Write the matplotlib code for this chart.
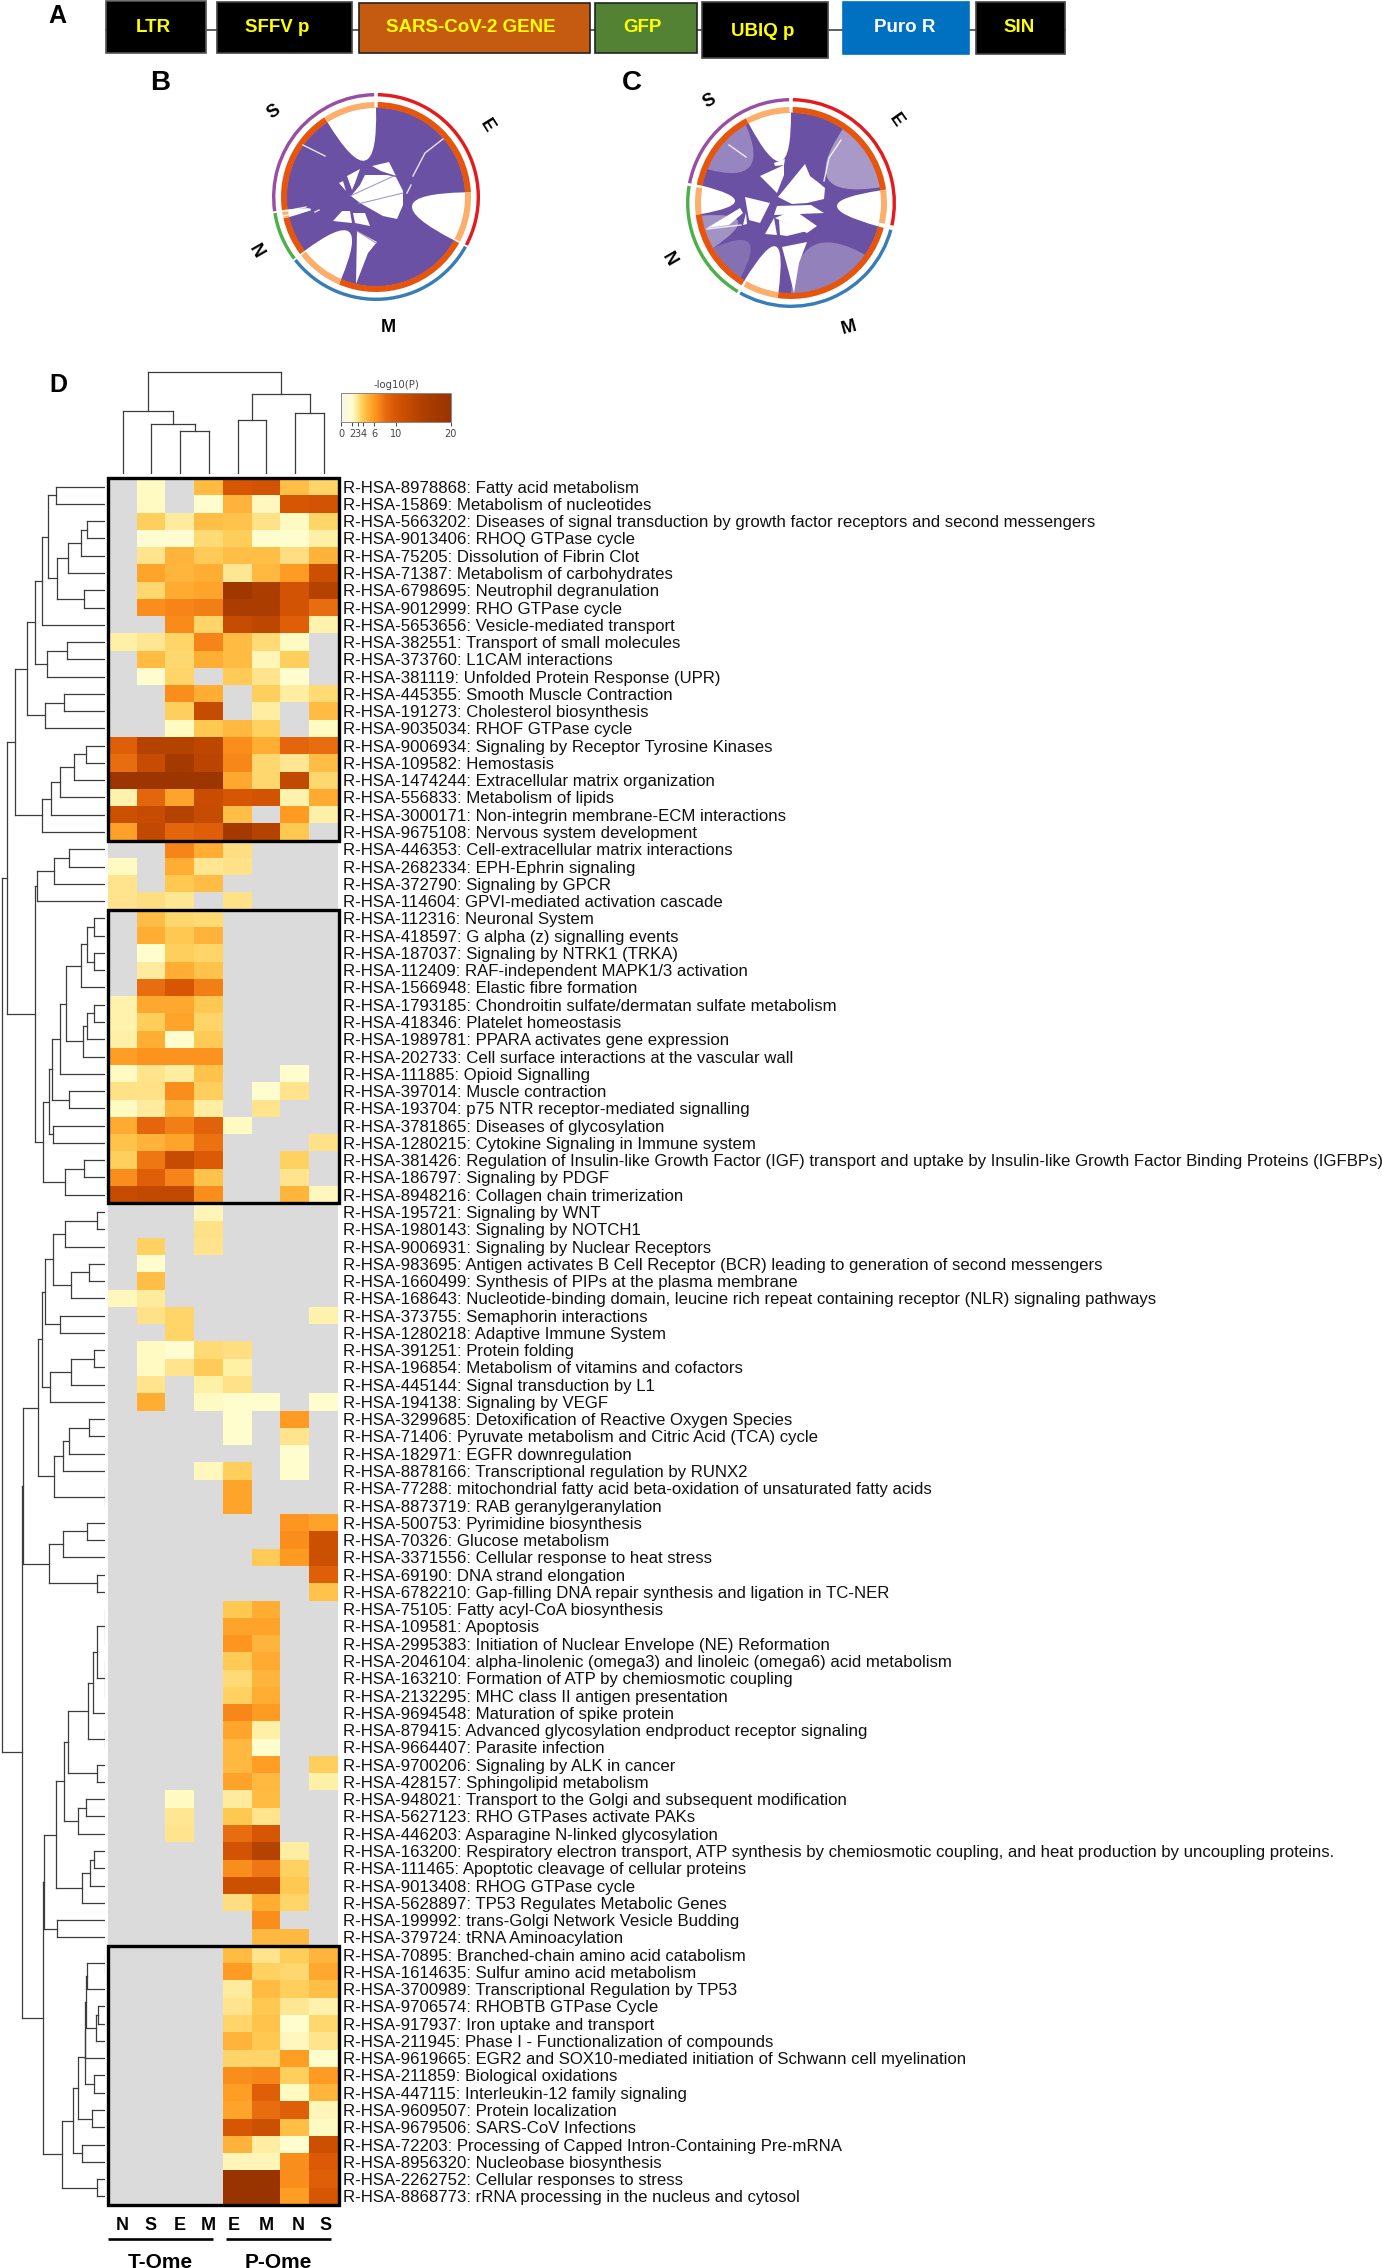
import numpy as np
import matplotlib
matplotlib.use("Agg")
import matplotlib.pyplot as plt
from matplotlib.colors import LinearSegmentedColormap, Normalize
from matplotlib.cm import ScalarMappable
from matplotlib.patches import Rectangle, Wedge, PathPatch, Polygon
from matplotlib.path import Path

plt.rcParams['font.family'] = ['Liberation Sans', 'DejaVu Sans']

W, H = 1382, 2268
_ = None

#? panel A
cassette_names = ["LTR", "SFFV p", "SARS-CoV-2 GENE", "GFP", "UBIQ p", "Puro R", "SIN"]
cassette_fill = ["black", "black", "#C55A11", "#548235", "black", "#0070C0", "black"]
cassette_edge = ["#555555", "#444444", "#222222", "#222222", "#444444", "#0070C0", "#444444"]
cassette_text = ["#FFFF00", "#FFFF00", "#FFFF00", "#FFFF00", "#FFFF00", "white", "#FFFF00"]
cassette_left = [106, 217, 359.5, 595.5, 702, 843, 976]
cassette_right = [206, 352, 590, 697, 828, 969, 1065]
cassette_top = [1, 2, 3, 3, 2, 2, 2]
cassette_bottom = [53, 53, 53, 53, 58, 53.5, 53.5]
cassette_label_x = [153, 277, 471, 642, 763, 905, 1019]
cassette_label_y = [27, 28, 28, 27.5, 31, 28, 28]

#? chord panels, angles are degrees clockwise from 12 o'clock
seg_names = ["E", "M", "N", "S"]
seg_colors = ["#E41A1C", "#377EB8", "#4DAF4A", "#984EA3"]
b_outer = [(1, 118), (119, 232), (233, 261), (262, 359)]
b_dark = [(1, 87), (119, 203), (233, 257), (262, 327)]
b_light = [(87, 118), (203, 232), (257, 261), (327, 359)]
b_bays = [(87, 119, 37, 1), (327, 360, 38, 1), (203, 233, 44, 1), (257, 262, 66, 1)]  # a1, a2, tip radius, alpha
b_slits = [
    [(67, 58), (49, 44), (37, 21)], [(35, 12), (31, 4)], [(-73, 52), (-51, 41)],
    [(-93, -19), (-66, -13)], [(-90, -14), (-70, -10)], [(-61, -15), (-57, -13)],
]
b_holes = [
    [(-4, 31), (13, 35), (20, 21), (5, 26)],
    [(11, 22), (20, 20), (27, 6), (27, -8), (21, -22), (7, -19), (-16, -6), (-25, 1), (-16, 12), (-11, 22)],
    [(-29, 21), (-16, 28), (-21, 14), (-24, 7)],
    [(-37, 14), (-33, 16), (-30, 6)],
    [(-43, -24), (-34, -14), (-26, -14), (-24, -26)],
    [(-23, -16), (-11, -16), (-6, -29), (-21, -26)],
    [(-19, -34), (1, -45), (-8, -56), (-20, -87)],
]
b_threads = [[(-26, 1), (20, 22)], [(-18, -7), (27, 4)], [(-19, -34), (0, -46)]]
c_outer = [(1, 102.5), (105, 209.5), (211, 279.5), (281, 359)]
c_dark = [(1, 82), (105, 188), (211, 263), (281, 332)]
c_light = [(82, 102.5), (188, 209.5), (263, 279.5), (332, 359)]
c_bays = [
    (35, 80, 44, 0.42), (125, 180, 48, 0.28), (240, 262, 56, 0.38), (292, 330, 55, 0.3), (214, 240, 58, 0.18),
    (82, 105, 46, 1), (332, 360, 43, 1), (188, 211, 46, 1), (263, 281, 56, 1),
]
c_slits = [[(50, 63), (38, 45), (33, 22)], [(-62, 58), (-45, 46)], [(-84, -26), (-50, -22)]]
c_holes = [
    [(-13, 6), (14, 39), (19, 27), (28, 20), (34, 15), (33, 4), (16, 0), (1, -1)],
    [(-17, -12), (-14, -3), (20, -2), (33, -10)],
    [(-16, -15), (16, -30), (26, -23), (3, -7)],
    [(-26, -31), (-17, -15), (-14, -32)],
    [(-12, -17), (16, -28), (-4, -33), (-11, -32)],
    [(-46, 6), (-21, 0), (-31, -20), (-42, -17)],
    [(-31, 27), (-7, 38), (-7, 28), (-14, 10)],
    [(-17, 40), (-6, 44), (-7, 38), (-16, 37)],
    [(-9, -44), (16, -39), (8, -60), (3, -90), (-2, -70)],
    [(-84, -25), (-51, -5), (-48, -10), (-62, -22)],
    [(-48, -22), (-45, -10), (-44, -21)],
]
c_threads = []

#? panel D columns / rows
col_labels = ["N", "S", "E", "M", "E", "M", "N", "S"]
pathway_labels = [
    "R-HSA-8978868: Fatty acid metabolism", "R-HSA-15869: Metabolism of nucleotides",
    "R-HSA-5663202: Diseases of signal transduction by growth factor receptors and second messengers",
    "R-HSA-9013406: RHOQ GTPase cycle", "R-HSA-75205: Dissolution of Fibrin Clot",
    "R-HSA-71387: Metabolism of carbohydrates", "R-HSA-6798695: Neutrophil degranulation",
    "R-HSA-9012999: RHO GTPase cycle", "R-HSA-5653656: Vesicle-mediated transport",
    "R-HSA-382551: Transport of small molecules", "R-HSA-373760: L1CAM interactions",
    "R-HSA-381119: Unfolded Protein Response (UPR)", "R-HSA-445355: Smooth Muscle Contraction",
    "R-HSA-191273: Cholesterol biosynthesis", "R-HSA-9035034: RHOF GTPase cycle",
    "R-HSA-9006934: Signaling by Receptor Tyrosine Kinases", "R-HSA-109582: Hemostasis",
    "R-HSA-1474244: Extracellular matrix organization", "R-HSA-556833: Metabolism of lipids",
    "R-HSA-3000171: Non-integrin membrane-ECM interactions", "R-HSA-9675108: Nervous system development",
    "R-HSA-446353: Cell-extracellular matrix interactions", "R-HSA-2682334: EPH-Ephrin signaling",
    "R-HSA-372790: Signaling by GPCR", "R-HSA-114604: GPVI-mediated activation cascade",
    "R-HSA-112316: Neuronal System", "R-HSA-418597: G alpha (z) signalling events",
    "R-HSA-187037: Signaling by NTRK1 (TRKA)", "R-HSA-112409: RAF-independent MAPK1/3 activation",
    "R-HSA-1566948: Elastic fibre formation", "R-HSA-1793185: Chondroitin sulfate/dermatan sulfate metabolism",
    "R-HSA-418346: Platelet homeostasis", "R-HSA-1989781: PPARA activates gene expression",
    "R-HSA-202733: Cell surface interactions at the vascular wall", "R-HSA-111885: Opioid Signalling",
    "R-HSA-397014: Muscle contraction", "R-HSA-193704: p75 NTR receptor-mediated signalling",
    "R-HSA-3781865: Diseases of glycosylation", "R-HSA-1280215: Cytokine Signaling in Immune system",
    "R-HSA-381426: Regulation of Insulin-like Growth Factor (IGF) transport and uptake by Insulin-like Growth Factor Binding Proteins (IGFBPs)",
    "R-HSA-186797: Signaling by PDGF", "R-HSA-8948216: Collagen chain trimerization",
    "R-HSA-195721: Signaling by WNT", "R-HSA-1980143: Signaling by NOTCH1",
    "R-HSA-9006931: Signaling by Nuclear Receptors",
    "R-HSA-983695: Antigen activates B Cell Receptor (BCR) leading to generation of second messengers",
    "R-HSA-1660499: Synthesis of PIPs at the plasma membrane",
    "R-HSA-168643: Nucleotide-binding domain, leucine rich repeat containing receptor (NLR) signaling pathways",
    "R-HSA-373755: Semaphorin interactions", "R-HSA-1280218: Adaptive Immune System",
    "R-HSA-391251: Protein folding", "R-HSA-196854: Metabolism of vitamins and cofactors",
    "R-HSA-445144: Signal transduction by L1", "R-HSA-194138: Signaling by VEGF",
    "R-HSA-3299685: Detoxification of Reactive Oxygen Species",
    "R-HSA-71406: Pyruvate metabolism and Citric Acid (TCA) cycle", "R-HSA-182971: EGFR downregulation",
    "R-HSA-8878166: Transcriptional regulation by RUNX2",
    "R-HSA-77288: mitochondrial fatty acid beta-oxidation of unsaturated fatty acids",
    "R-HSA-8873719: RAB geranylgeranylation", "R-HSA-500753: Pyrimidine biosynthesis",
    "R-HSA-70326: Glucose metabolism", "R-HSA-3371556: Cellular response to heat stress",
    "R-HSA-69190: DNA strand elongation", "R-HSA-6782210: Gap-filling DNA repair synthesis and ligation in TC-NER",
    "R-HSA-75105: Fatty acyl-CoA biosynthesis", "R-HSA-109581: Apoptosis",
    "R-HSA-2995383: Initiation of Nuclear Envelope (NE) Reformation",
    "R-HSA-2046104: alpha-linolenic (omega3) and linoleic (omega6) acid metabolism",
    "R-HSA-163210: Formation of ATP by chemiosmotic coupling", "R-HSA-2132295: MHC class II antigen presentation",
    "R-HSA-9694548: Maturation of spike protein", "R-HSA-879415: Advanced glycosylation endproduct receptor signaling",
    "R-HSA-9664407: Parasite infection", "R-HSA-9700206: Signaling by ALK in cancer",
    "R-HSA-428157: Sphingolipid metabolism", "R-HSA-948021: Transport to the Golgi and subsequent modification",
    "R-HSA-5627123: RHO GTPases activate PAKs", "R-HSA-446203: Asparagine N-linked glycosylation",
    "R-HSA-163200: Respiratory electron transport, ATP synthesis by chemiosmotic coupling, and heat production by uncoupling proteins.",
    "R-HSA-111465: Apoptotic cleavage of cellular proteins", "R-HSA-9013408: RHOG GTPase cycle",
    "R-HSA-5628897: TP53 Regulates Metabolic Genes", "R-HSA-199992: trans-Golgi Network Vesicle Budding",
    "R-HSA-379724: tRNA Aminoacylation", "R-HSA-70895: Branched-chain amino acid catabolism",
    "R-HSA-1614635: Sulfur amino acid metabolism", "R-HSA-3700989: Transcriptional Regulation by TP53",
    "R-HSA-9706574: RHOBTB GTPase Cycle", "R-HSA-917937: Iron uptake and transport",
    "R-HSA-211945: Phase I - Functionalization of compounds",
    "R-HSA-9619665: EGR2 and SOX10-mediated initiation of Schwann cell myelination",
    "R-HSA-211859: Biological oxidations", "R-HSA-447115: Interleukin-12 family signaling",
    "R-HSA-9609507: Protein localization", "R-HSA-9679506: SARS-CoV Infections",
    "R-HSA-72203: Processing of Capped Intron-Containing Pre-mRNA", "R-HSA-8956320: Nucleobase biosynthesis",
    "R-HSA-2262752: Cellular responses to stress", "R-HSA-8868773: rRNA processing in the nucleus and cytosol",
]

heat_a = [
    [_, 2.2, _, 4.5, 10, 10.5, 4.3, 3.5], [_, 2.2, _, 2.1, 4.8, 2.3, 10, 10.5],
    [_, 3.7, 2.8, 4.3, 4.2, 3.1, 2.2, 3.5], [_, 2.0, 2.0, 3.3, 3.8, 2.1, 2.1, 2.6],
    [_, 3, 4.8, 3.9, 4.3, 4.3, 3.2, 4.8], [_, 5.5, 4.7, 5, 2.9, 4.6, 6, 11],
    [_, 3.4, 5.2, 5.5, 18, 15.5, 10.5, 14], [_, 6.5, 7, 7.2, 15.5, 15.5, 10.5, 8],
    [_, _, 6.7, 3.5, 12, 13, 9, 2.5], [2.6, 2.9, 3.5, 7, 4.5, 3.3, 2.2, _],
    [_, 4.5, 3.4, 5, 4.5, 2.4, 3.7, _], [_, 2.1, 3.5, _, 3.9, 3, 2.1, _],
    [_, _, 6.5, 5, _, 3.7, 2.7, 3.3], [_, _, 3.7, 12, _, 2.7, _, 4.5],
    [_, _, 2.2, 4, 4.6, 3.6, _, 2.2], [9, 14, 14, 13, 6.5, 5, 8.5, 8],
    [8, 12, 17, 13.5, 6.8, 3.4, 2.9, 4.4], [19, 19, 19, 19, 5.3, 3.4, 12.5, 3.4],
    [2.5, 8.5, 5.5, 11.5, 10, 10.5, 2.5, 5.2], [11, 12, 14, 12, 4.3, _, 6, 2.6],
    [5.7, 12.5, 8.5, 9, 17, 14, 4, _],
]
heat_b = [
    [_, _, 7, 5, 3.2, _, _, _], [2.2, _, 5, 2.9, 3.1, _, _, _], [3, _, 4, 4.4, _, _, _, _],
    [3, 3.2, 2.9, _, 3.1, _, _, _], [_, 4.4, 3.4, 3.3, _, _, _, _], [_, 5, 4, 4.8, _, _, _, _],
    [_, 2.1, 3.7, 3.5, _, _, _, _], [_, 2.8, 5, 4.2, _, _, _, _], [_, 8, 10, 7.2, _, _, _, _],
    [2.5, 5.3, 5.3, 4, _, _, _, _], [2.5, 3.8, 5.5, 3.5, _, _, _, _], [2.6, 5, 2.1, 3.9, _, _, _, _],
    [5.8, 6.3, 6.3, 6.3, _, _, _, _], [2.2, 3, 2.7, 4.2, _, _, 2.1, _], [3.1, 3.1, 6.5, 3.7, _, 2.1, 3, _],
    [2.2, 2.8, 4.8, 2.7, _, 3, _, _], [5.2, 8.5, 7.2, 8.8, 2.2, _, _, _], [4.2, 4.8, 5.5, 7.8, _, _, _, 3.1],
    [3.7, 7.5, 12, 9.5, _, _, 3.6, _], [6.5, 9, 7, 4.2, _, _, 3, _], [12, 12.5, 12.5, 6.5, _, _, 4.7, 2.3],
]
heat_c = [
    [_, _, _, 2.4, _, _, _, _], [_, _, _, 3.1, _, _, _, _], [_, 3.6, _, 3, _, _, _, _],
    [_, 2.1, _, _, _, _, _, _], [_, 4.3, _, _, _, _, _, _], [2.3, 2.8, _, _, _, _, _, _],
    [_, 3.1, 3.5, _, _, _, _, 2.5], [_, _, 3.5, _, _, _, _, _], [_, 2.2, 2.0, 3.3, 3.2, _, _, _],
    [_, 2.2, 3, 3.9, 2.6, _, _, _], [_, 3, _, 2.6, 3.1, _, _, _], [_, 5, _, 2.2, 2.1, 2.1, _, 2.1],
    [_, _, _, _, 2.1, _, 6, _], [_, _, _, _, 2.1, _, 3, _], [_, _, _, _, _, _, 2.1, _],
    [_, _, _, 2.3, 3.7, _, 2.1, _], [_, _, _, _, 5.5, _, _, _], [_, _, _, _, 5.5, _, _, _],
    [_, _, _, _, _, _, 6.2, 5.6], [_, _, _, _, _, _, 6.5, 11], [_, _, _, _, _, 3.9, 6, 11],
    [_, _, _, _, _, _, _, 9], [_, _, _, _, _, _, _, 4.2],
]
heat_d = [
    [_, _, _, _, 4, 5, _, _], [_, _, _, _, 5.5, 5.5, _, _], [_, _, _, _, 6.2, 4.7, _, _],
    [_, _, _, _, 3.9, 5.2, _, _], [_, _, _, _, 3.3, 4.7, _, _], [_, _, _, _, 3.6, 5, _, _],
    [_, _, _, _, 6.8, 6, _, _], [_, _, _, _, 5.4, 2.6, _, _], [_, _, _, _, 4.6, 2.1, _, _],
    [_, _, _, _, 4.6, 5.8, _, 3.7], [_, _, _, _, 5.6, 4.6, _, 2.6], [_, _, 2.2, _, 2.8, 4.5, _, _],
    [_, _, 2.9, _, 4, 3, _, _], [_, _, 3, _, 8, 10, _, _], [_, _, _, _, 10.5, 14, 2.7, _],
    [_, _, _, _, 6.5, 7.5, 3.6, _], [_, _, _, _, 11, 11, 4, _], [_, _, _, _, 3.2, 5, 3.5, _],
    [_, _, _, _, _, 6.5, _, _], [_, _, _, _, _, 4.6, 4.6, _],
]
heat_e = [
    [_, _, _, _, 4.5, 3, 3.8, 4.7], [_, _, _, _, 6, 3.6, 3.4, 5.3], [_, _, _, _, 2.8, 4.5, 3.7, 4.3],
    [_, _, _, _, 3, 4, 2.9, 2.5], [_, _, _, _, 3.5, 4.2, 2.1, 3.4], [_, _, _, _, 4.8, 4, 2.3, 3],
    [_, _, _, _, 3.5, 3.5, 5.8, 2.1], [_, _, _, _, 6.5, 6.8, 3.7, 6], [_, _, _, _, 5.8, 9, 2.2, 4.7],
    [_, _, _, _, 5.5, 8, 9, 2.4], [_, _, _, _, 10, 11, 4.3, 2.2], [_, _, _, _, 4.8, 2.7, 2.1, 11],
    [_, _, _, _, 2.4, 2.4, 6.5, 9.5], [_, _, _, _, 20, 20, 6.5, 9], [_, _, _, _, 20, 20, 5.8, 10],
]
heat = np.array(heat_a + heat_b + heat_c + heat_d + heat_e, dtype=float)
box_rows = [(0, 21), (25, 42), (85, 100)]

#? dendrograms: (distance, child, child...) , 0 is a leaf
col_tree = (306, (190, 0, (150, 0, (130, 0, 0))), (240, (161, 0, 0), (184, 0, 0)))
cluster_a = (270, (235, (210, (189, (172, (147, 0, 0), (144, (111, (73, (53, 0, 0), 0), 0), (63, 0, 0))), 0),
                        (175, (113, 0, 0), 0)), (180, (122, 0, 0), 0)),
             (190, (161, (135, (94, (58, 0, 0), 0), 0), 0), 0))
cluster_b = (210, (205, (153, (108, 0, 0), 0), 0),
             (185, (167, (160, (135, (117, (72, (53, (33, 0, 0), (33, 0, 0)), 0),
                                      (67, (53, (33, 0, 0), 0), 0)), 0), (108, 0, 0)), (157, 0, 0)),
              (120, (63, 0, 0), 0)))
cluster_c = (247, (201, (189, (179, (155, (120, (25, 0, 0), 0), (101, (48, 0, 0), 0)), (134, 0, 0)),
                         (165, (103, (33, 0, 0), 0), 0)),
                   (153, (125, (108, (48, 0, 0), 0), 0), (0, 0, 0))),
             (169, (125, (53, 0, 0), 0), (25, 0, 0)))
cluster_d = (182, (146, (122, (110, (51, (35, (23, (0, 0, 0, 0), (0, 0, 0, 0)), 0), (0, 0, 0)), (25, 0, 0)),
                         (82, (58, 0, 0), 0)), (70, (46, (33, 0, 0), 0), 0)), (143, 0, 0))
cluster_e = (130, (95, (80, (61, (59, (57, (53, (0, 0, 0), 0), (27, (22, 0, 0), 0)), 0), (33, 0, 0)),
                        (40, 0, 0)), (70, 0, 0)), (25, 0, 0))
row_tree = (310, (295, cluster_a, cluster_b), (250, cluster_c, (186, cluster_d, cluster_e)))

cmap_stops = [0, 2, 2.5, 3, 3.5, 4, 5, 6, 7, 8, 9.5, 11, 13, 15, 20]
cmap_cols = ["#F6F6EE", "#FFFDD0", "#FFF3AE", "#FFE38C", "#FFD466", "#FFC850", "#FFAE34", "#FF9A22",
             "#F68418", "#E86C10", "#DC5A06", "#CC5002", "#BE4802", "#AE3F00", "#993300"]
cbar_ticks = [0, 2, 3, 4, 6, 10, 20]


def px_axes(x0, y0, x1, y1):
    return fig.add_axes([x0 / W, 1 - y1 / H, (x1 - x0) / W, (y1 - y0) / H])


def walk_tree(node, pos, draw):
    # returns leaf-coordinate of a node, pos is a running leaf counter
    if node == 0:
        pos[0] += 1
        return pos[0] - 0.5, 0
    d = node[0]
    kids = [walk_tree(k, pos, draw) for k in node[1:]]
    locs = [k[0] for k in kids]
    lw_col = "#999999" if d == 0 else "#3c3c3c"
    draw([min(locs), max(locs)], [d, d], lw_col)
    for loc, kd in kids:
        draw([loc, loc], [kd, d], "#3c3c3c")
    return (min(locs) + max(locs)) / 2, d


def pt(a, r):
    t = np.radians(a)
    return np.array([r * np.sin(t), r * np.cos(t)])


def bay(ax, a1, a2, tip_r, r, alpha):
    # white wedge cut out of the ribbons: arc on the rim, curved back through the tip
    arc = [pt(a, r) for a in np.linspace(a1, a2, 24)]
    ctrl = 2 * pt((a1 + a2) / 2, tip_r) - (arc[0] + arc[-1]) / 2
    verts = arc + [ctrl, arc[0]]
    codes = [Path.MOVETO] + [Path.LINETO] * 23 + [Path.CURVE3, Path.CURVE3]
    ax.add_patch(PathPatch(Path(verts, codes), fc="white", ec="none", alpha=alpha))


def chord(box, outer, dark, light, bays, slits, holes, threads, r_o, r_m):
    ax = px_axes(*box)
    half = (box[2] - box[0]) / 2
    ax.set_xlim(-half, half)
    ax.set_ylim(-half, half)
    ax.axis("off")
    for (a, b), c in zip(outer, seg_colors):
        ax.add_patch(Wedge((0, 0), r_o, 90 - b, 90 - a, width=3.4, fc=c, ec="none"))
    ax.add_patch(Wedge((0, 0), r_m - 5.5, 0, 360, fc="#6A51A3", ec="none"))
    for a1, a2, tip, alpha in bays:
        bay(ax, a1, a2, tip, r_m - 5.5, alpha)
    for a, b in dark:
        ax.add_patch(Wedge((0, 0), r_m, 90 - b, 90 - a, width=6, fc="#E6550D", ec="none"))
    for a, b in light:
        ax.add_patch(Wedge((0, 0), r_m, 90 - b, 90 - a, width=6, fc="#FDAE6B", ec="none"))
    for poly in holes:
        ax.add_patch(Polygon(poly, fc="white", ec="none"))
    for line in slits:
        ax.plot(*zip(*line), color="white", lw=1.0, alpha=0.85)
    for line in threads:
        ax.plot(*zip(*line), color="#8F7FC0", lw=0.8, alpha=0.8)


fig = plt.figure(figsize=(W / 100, H / 100), dpi=100)

bg = fig.add_axes([0, 0, 1, 1])
bg.set_xlim(0, W)
bg.set_ylim(H, 0)
bg.axis("off")

#? A: the cassette strip
bg.plot([cassette_left[0], cassette_right[-1]], [30, 30], color="#444444", lw=1.2, zorder=1)
for i, name in enumerate(cassette_names):
    bg.add_patch(Rectangle((cassette_left[i], cassette_top[i]), cassette_right[i] - cassette_left[i],
                           cassette_bottom[i] - cassette_top[i], fc=cassette_fill[i], ec=cassette_edge[i],
                           lw=1.2, zorder=2))
    bg.text(cassette_label_x[i], cassette_label_y[i], name, color=cassette_text[i], fontsize=13.5,
            fontweight="bold", ha="center", va="center", zorder=3)

for letter, lx, ly, fs in [("A", 57.5, 16, 18), ("B", 160, 83, 20), ("C", 632, 83, 20), ("D", 58, 385, 18)]:
    bg.text(lx, ly, letter, fontsize=fs, fontweight="bold", ha="center", va="center")

#? B and C
chord((256, 77, 496, 317), b_outer, b_dark, b_light, b_bays, b_slits, b_holes, b_threads, 104, 95)
chord((671, 83, 911, 323), c_outer, c_dark, c_light, c_bays, c_slits, c_holes, c_threads, 105, 96)
for name, lx, ly, rot in [("S", 274, 112, 35), ("E", 486.5, 126, -58), ("N", 255.5, 251, -60), ("M", 388, 328, 0),
                          ("S", 709, 101, 30), ("E", 896, 120, -55), ("N", 669, 259, -60), ("M", 849, 328, 15)]:
    bg.text(lx, ly, name, fontsize=13, fontweight="bold", rotation=rot, ha="center", va="center")

#? D: heatmap
cmap = LinearSegmentedColormap.from_list("logp", [(s / 20, c) for s, c in zip(cmap_stops, cmap_cols)])
cmap.set_bad("#DBDBDB")
norm = Normalize(0, 20)
ax = px_axes(108.3, 478, 338.3, 2205)
ax.imshow(np.ma.masked_invalid(heat), cmap=cmap, norm=norm, aspect="auto", interpolation="nearest",
          extent=(0, 8, 100, 0))
ax.set_xticks([])
ax.yaxis.tick_right()
ax.set_yticks(np.arange(100) + 0.5)
ax.set_yticklabels(pathway_labels, fontsize=12.05, color="#111111")
ax.tick_params(axis="y", length=0, pad=3.5)
for s in ax.spines.values():
    s.set_visible(False)
for r0, r1 in box_rows:
    ax.add_patch(Rectangle((-0.02, r0), 8.04, r1 - r0, fc="none", ec="black", lw=2.4, clip_on=False, zorder=5))

#? dendrograms
ax_top = px_axes(108.3, 350, 338.3, 474)
ax_top.set_xlim(0, 8)
ax_top.set_ylim(0, 372)
ax_top.axis("off")
walk_tree(col_tree, [0], lambda xs, ds, c: ax_top.plot(xs, ds, color=c, lw=0.9, solid_capstyle="projecting"))

ax_left = px_axes(0, 478, 105, 2205)
ax_left.set_xlim(315, 0)
ax_left.set_ylim(100, 0)
ax_left.axis("off")
walk_tree(row_tree, [0], lambda ys, ds, c: ax_left.plot(ds, ys, color=c, lw=0.9, solid_capstyle="projecting"))

#? colourbar
cax = px_axes(341.3, 393, 450.7, 421.7)
cb = fig.colorbar(ScalarMappable(norm, cmap), cax=cax, orientation="horizontal", ticks=cbar_ticks)
cb.ax.tick_params(labelsize=7, length=3, width=0.7, pad=2, colors="#444444", labelfontfamily="DejaVu Sans")
cb.outline.set_edgecolor("#888888")
cb.outline.set_linewidth(0.7)
bg.text(396, 385, "-log10(P)", fontsize=7.3, family="DejaVu Sans", color="#444444", ha="center", va="center")

#? bottom labels
for name, lx in zip(col_labels, [122, 150.7, 180, 208.3, 234, 266.7, 298.3, 326]):
    bg.text(lx, 2225, name, fontsize=13, fontweight="bold", ha="center", va="center")
bg.plot([108, 212.7], [2239, 2239], color="black", lw=1.9, solid_capstyle="butt")
bg.plot([226, 330.7], [2239, 2239], color="black", lw=1.9, solid_capstyle="butt")
bg.text(160.7, 2263, "T-Ome", fontsize=15, fontweight="bold", ha="center", va="center")
bg.text(278.3, 2263, "P-Ome", fontsize=15, fontweight="bold", ha="center", va="center")

fig.savefig("out.png", dpi=100)
